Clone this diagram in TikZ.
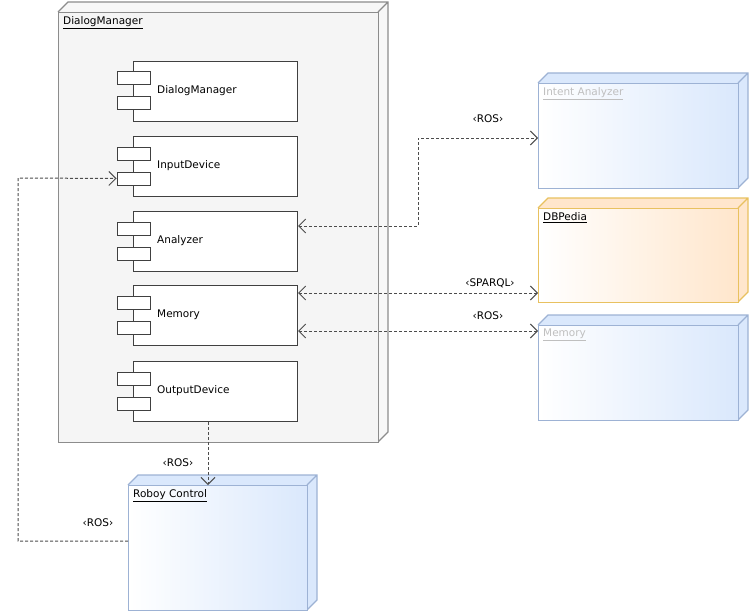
\documentclass[tikz,border=0pt]{standalone}
\usepackage{fontspec}
\setmainfont{DejaVu Sans}
\usetikzlibrary{positioning, arrows.meta}
\definecolor{umlblue}{HTML}{DAE8FC}
\definecolor{umlbluedraw}{HTML}{9DB2D4}
\definecolor{umlorange}{HTML}{FFE6CC}
\definecolor{umlorangedraw}{HTML}{E8C160}
\definecolor{umlgray}{HTML}{F5F5F5}
\tikzset{
  front/.style={draw, line width=1.2pt, anchor=north west, inner sep=0pt},
  comp/.style={draw=black!75, line width=1pt, fill=white, anchor=north west,
    minimum width=164pt, minimum height=60pt, inner sep=0pt},
  tab/.style={draw=black!75, line width=1pt, fill=white, minimum width=33pt,
    minimum height=13pt, inner sep=0pt},
  title/.style={anchor=north west, font=\fontsize{10.5}{12}\selectfont, inner sep=0pt},
  lbl/.style={font=\fontsize{10.5}{12}\selectfont, inner sep=1pt},
  link/.style={draw=black!70, line width=1pt, dash pattern=on 3pt off 2pt},
  open/.style={-{Straight Barb[length=7pt,width=14pt]}},
  both/.style={{Straight Barb[length=7pt,width=14pt]}-{Straight Barb[length=7pt,width=14pt]}}
}
\begin{document}
\begin{tikzpicture}[x=1pt, y=-1pt]
    \useasboundingbox (0,0) rectangle (754,615);
    % 3D boxes: back faces first
    \fill[umlgray!80] (58,12) -- (68,2) -- (388,2) -- (388,432) -- (378,442) -- (378,12) -- cycle;
    \draw[black!45, line width=1.2pt] (58,12) -- (68,2) -- (388,2) -- (388,432) -- (378,442) (378,12) -- (388,2);
    \node[front, draw=black!45, fill=umlgray, minimum width=320pt, minimum height=430pt] (dm) at (58,12) {};
    \node[title] (dmtitle) at (63,16) {\underline{DialogManager}};

    \foreach \nm/\x/\y/\w/\h/\col/\dr/\txt/\tc in {
        ia/538/83/200/105/umlblue/umlbluedraw/Intent Analyzer/black!25,
        db/538/208/200/94/umlorange/umlorangedraw/DBPedia/black,
        me/538/325/200/95/umlblue/umlbluedraw/Memory/black!25,
        rc/128/485/179/125/umlblue/umlbluedraw/Roboy Control/black}{
      \fill[\col] (\x,\y) -- ++(10,-10) -- ++(\w,0) -- ++(0,\h) -- ++(-10,10) -- cycle;
      \draw[\dr, line width=1.2pt] (\x,\y) -- ++(10,-10) -- ++(\w,0) -- ++(0,\h) -- ++(-10,10)
        (\x+\w,\y) -- ++(10,-10);
      \node[front, draw=\dr, left color=white, right color=\col, minimum width=\w pt,
        minimum height=\h pt] (\nm) at (\x,\y) {};
      \node[title, text=\tc] (\nm title) at (\x+5,\y+4) {\underline{\txt}};
    }

    % components
    \foreach \nm/\y/\txt in {cdm/61/DialogManager, cin/136/InputDevice, can/211/Analyzer,
        cme/285/Memory, cout/361/OutputDevice}{
      \node[comp] (\nm) at (133,\y) {};
      \node[tab] (\nm a) at (133.5,\y+17.5) {};
      \node[tab] (\nm b) at (133.5,\y+42.5) {};
      \node[anchor=west, font=\fontsize{10.5}{12}\selectfont, inner sep=0pt] (\nm txt) at (157,\y+30) {\txt};
    }

    % connectors
    \coordinate (c1) at (418,226);
    \coordinate (c2) at (418,138);
    \draw[link, both] (can.east |- c1) -- (c1) -- (c2) -- (ia.west |- c2);
    \node[lbl] (l1) at (488,119) {‹ROS›};
    \draw[link, both] (cme.east |- 0,293) -- (db.west |- 0,293);
    \node[lbl] (l2) at (490,283) {‹SPARQL›};
    \draw[link, both] (cme.east |- 0,331) -- (me.west |- 0,331);
    \node[lbl] (l3) at (488,316) {‹ROS›};
    \draw[link, open] (cout.south -| 208,0) -- (rc.north -| 208,0);
    \node[lbl] (l4) at (178,463) {‹ROS›};
    \coordinate (c3) at (18,541);
    \coordinate (c4) at (18,178);
    \draw[link, open] (rc.west |- c3) -- (c3) -- (c4) -- (cinb.west);
    \node[lbl] (l5) at (98,523) {‹ROS›};
\end{tikzpicture}
\end{document}
